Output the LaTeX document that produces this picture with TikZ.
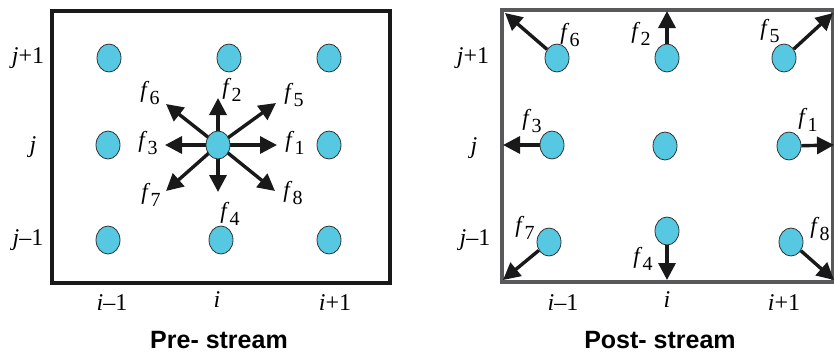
\documentclass[tikz,border=0pt]{standalone}
\usepackage{fontspec}
\setmainfont{Liberation Serif}
\setsansfont{Liberation Sans}
\usetikzlibrary{arrows.meta,shapes.geometric}

\definecolor{dotblue}{RGB}{86,200,225}
\definecolor{framegray}{RGB}{88,89,91}
\newcommand{\fsub}[1]{\textit{f}\raisebox{-0.32em}{\fontsize{20}{20}\selectfont #1}}

\begin{document}
\begin{tikzpicture}[x=1pt, y=-1pt,
    dot/.style={ellipse, draw=black!80, line width=0.8pt, fill=dotblue,
                minimum width=24pt, minimum height=28pt, inner sep=0pt},
    arr/.style={-{Triangle[length=17pt,width=17pt]}, line width=3.4pt, draw=black!90},
    idx/.style={font=\fontsize{24}{24}\selectfont, inner sep=0pt},
    flab/.style={font=\fontsize{23}{23}\selectfont, inner sep=0pt},
    ttl/.style={font=\sffamily\bfseries\fontsize{25}{25}\selectfont, inner sep=0pt}
  ]
  \useasboundingbox (0,0) rectangle (834,356);

  % pre-stream
  \draw[line width=4pt, black!90] (52,11) rectangle (390,283);
  \node[dot] (a11) at (109,58) {};
  \node[dot] (a21) at (229,58) {};
  \node[dot] (a31) at (329,58) {};
  \node[dot] (a12) at (108,145) {};
  \node[dot] (a32) at (329,145) {};
  \node[dot] (a13) at (108,240) {};
  \node[dot] (a23) at (221,240) {};
  \node[dot] (a33) at (329,240) {};

  \coordinate (a22c) at (218,145);
  \coordinate (t1) at (277,145);
  \coordinate (t2) at (218,98);
  \coordinate (t3) at (165,145);
  \coordinate (t4) at (218,192);
  \coordinate (t5) at (276,103);
  \coordinate (t6) at (166,104);
  \coordinate (t7) at (166,191);
  \coordinate (t8) at (275,191);
  \foreach \k in {1,...,8}
    \draw[arr] (a22c) -- (t\k);
  \node[dot] (a22) at (a22c) {};

  \node[flab] (lf1) at (295,143) {\fsub{1}};
  \node[flab] (lf2) at (232,90)  {\fsub{2}};
  \node[flab] (lf3) at (148,143) {\fsub{3}};
  \node[flab] (lf4) at (230,214) {\fsub{4}};
  \node[flab] (lf5) at (294,95)  {\fsub{5}};
  \node[flab] (lf6) at (150,93)  {\fsub{6}};
  \node[flab] (lf7) at (151,195) {\fsub{7}};
  \node[flab] (lf8) at (293,193) {\fsub{8}};

  \node[idx] (lj1) at (28,58)   {\textit{j}+1};
  \node[idx] (lj0) at (33,147)  {\textit{j}};
  \node[idx] (lj2) at (28,240)  {\textit{j}–1};
  \node[idx] (li2) at (112,303) {\textit{i}–1};
  \node[idx] (li0) at (217,300) {\textit{i}};
  \node[idx] (li1) at (335,303) {\textit{i}+1};
  \node[ttl] (pre) at (219,340) {Pre- stream};

  % post-stream
  \draw[line width=4pt, framegray] (502,10) rectangle (833,282);
  \node[dot] (b11) at (557,58) {};
  \node[dot] (b21) at (667,58) {};
  \node[dot] (b31) at (784,58) {};
  \node[dot] (b12) at (552,145) {};
  \node[dot] (b22) at (665,146) {};
  \node[dot] (b32) at (789,146) {};
  \node[dot] (b13) at (549,242) {};
  \node[dot] (b23) at (667,231) {};
  \node[dot] (b33) at (791,242) {};

  \coordinate (c1) at (834,145);
  \coordinate (c2) at (667,11);
  \coordinate (c3) at (503,145);
  \coordinate (c4) at (667,280);
  \coordinate (c5) at (833,13);
  \coordinate (c6) at (505,13);
  \coordinate (c7) at (503,280);
  \coordinate (c8) at (834,280);
  \foreach \a/\b in {b32/c1,b21/c2,b12/c3,b23/c4,b31/c5,b11/c6,b13/c7,b33/c8}
    \draw[arr] (\a) -- (\b);

  \node[flab] (rf1) at (808,120) {\fsub{1}};
  \node[flab] (rf2) at (641,34)  {\fsub{2}};
  \node[flab] (rf3) at (532,121) {\fsub{3}};
  \node[flab] (rf4) at (643,259) {\fsub{4}};
  \node[flab] (rf5) at (770,31)  {\fsub{5}};
  \node[flab] (rf6) at (570,35)  {\fsub{6}};
  \node[flab] (rf7) at (525,228) {\fsub{7}};
  \node[flab] (rf8) at (820,229) {\fsub{8}};

  \node[idx] (rj1) at (473,58)  {\textit{j}+1};
  \node[idx] (rj0) at (474,148) {\textit{j}};
  \node[idx] (rj2) at (475,240) {\textit{j}–1};
  \node[idx] (ri2) at (563,303) {\textit{i}–1};
  \node[idx] (ri0) at (667,300) {\textit{i}};
  \node[idx] (ri1) at (784,303) {\textit{i}+1};
  \node[ttl] (post) at (660,340) {Post- stream};
\end{tikzpicture}
\end{document}
